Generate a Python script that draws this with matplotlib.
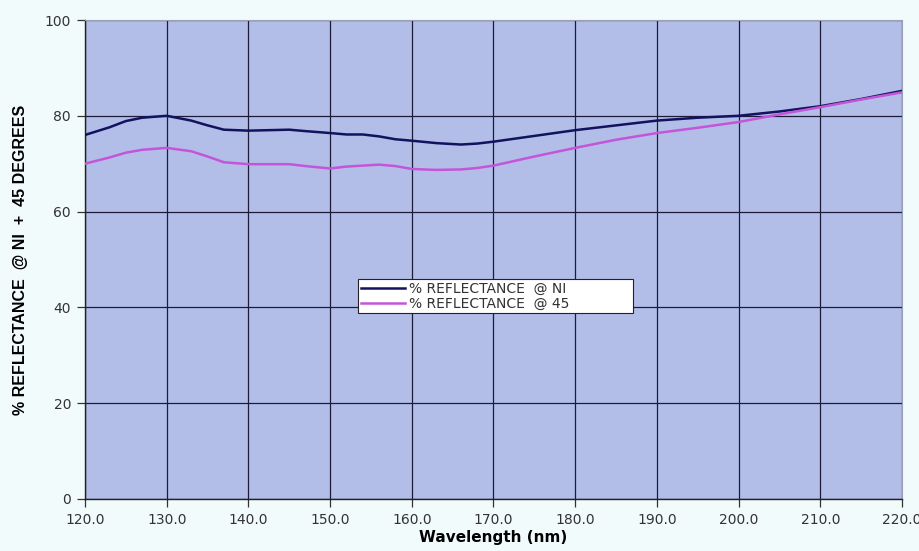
import numpy as np
import matplotlib
matplotlib.use('Agg')
import matplotlib.pyplot as plt

# 波长 (nm) 与两条反射率曲线
wavelength = [120, 123, 125, 127, 130, 133, 135, 137, 140, 145, 147, 150, 152, 154, 156,
              158, 160, 163, 166, 168, 170, 175, 180, 185, 190, 195, 200, 205, 210, 215, 220]
refl_ni = [76.0, 77.6, 78.9, 79.6, 80.0, 79.0, 78.0, 77.1, 76.9, 77.1, 76.8, 76.4, 76.1, 76.1, 75.7,
           75.1, 74.8, 74.3, 74.0, 74.2, 74.6, 75.8, 77.0, 78.0, 79.0, 79.6, 80.0, 80.9, 82.0, 83.5, 85.2]
refl_45 = [70.0, 71.3, 72.3, 72.9, 73.3, 72.6, 71.5, 70.3, 69.9, 69.9, 69.5, 69.0, 69.4, 69.6, 69.8,
           69.5, 68.9, 68.7, 68.8, 69.1, 69.6, 71.5, 73.3, 75.0, 76.4, 77.5, 78.7, 80.3, 81.8, 83.4, 84.9]

x_ticks = np.arange(120, 221, 10)
y_ticks = np.arange(0, 101, 20)

FIG_BG = '#f2fbfb'
AX_BG = '#b2bee8'
GRID_C = '#1c1c38'

fig = plt.figure(figsize=(9.2, 5.51), dpi=100, facecolor=FIG_BG)
ax = fig.add_axes([0.0924, 0.0944, 0.888, 0.8693])
ax.set_facecolor(AX_BG)

ax.plot(wavelength, refl_ni, color='#12125e', lw=1.8, label='% REFLECTANCE  @ NI', zorder=3)
ax.plot(wavelength, refl_45, color='#c455d8', lw=1.8, label='% REFLECTANCE  @ 45', zorder=3)

ax.set_xlim(120, 220)
ax.set_ylim(0, 100)
ax.set_xticks(x_ticks)
ax.set_xticklabels([f'{v:.1f}' for v in x_ticks])
ax.set_yticks(y_ticks)

ax.grid(True, color=GRID_C, lw=0.9)
ax.set_axisbelow(True)

ax.tick_params(axis='both', direction='out', length=6, width=0.9, color='#333333',
               labelsize=10, labelcolor='#333333', pad=4)
for s in ['top', 'right']:
    ax.spines[s].set_color('#9aa0b8')
    ax.spines[s].set_linewidth(0.8)
for s in ['left', 'bottom']:
    ax.spines[s].set_color('#222222')
    ax.spines[s].set_linewidth(1.0)

ax.set_xlabel('Wavelength (nm)', fontsize=11, fontweight='bold', labelpad=2)
ax.set_ylabel('% REFLECTANCE  @ NI  +  45 DEGREES', fontsize=11.5, fontweight='bold',
              family='Liberation Sans', labelpad=12)

# 图例框宽度对齐原图
leg = ax.legend(loc='lower left', bbox_to_anchor=(0.334, 0.388, 0.337, 0.067), mode='expand',
                fontsize=10, frameon=True, fancybox=False, framealpha=1, handlelength=3.2,
                handletextpad=0.3, borderpad=0.2, labelspacing=0.05, borderaxespad=0)
leg.get_frame().set_edgecolor('#222222')
leg.get_frame().set_linewidth(0.8)
for t in leg.get_texts():
    t.set_color('#333333')

fig.savefig('out.png', dpi=100, facecolor=FIG_BG)
